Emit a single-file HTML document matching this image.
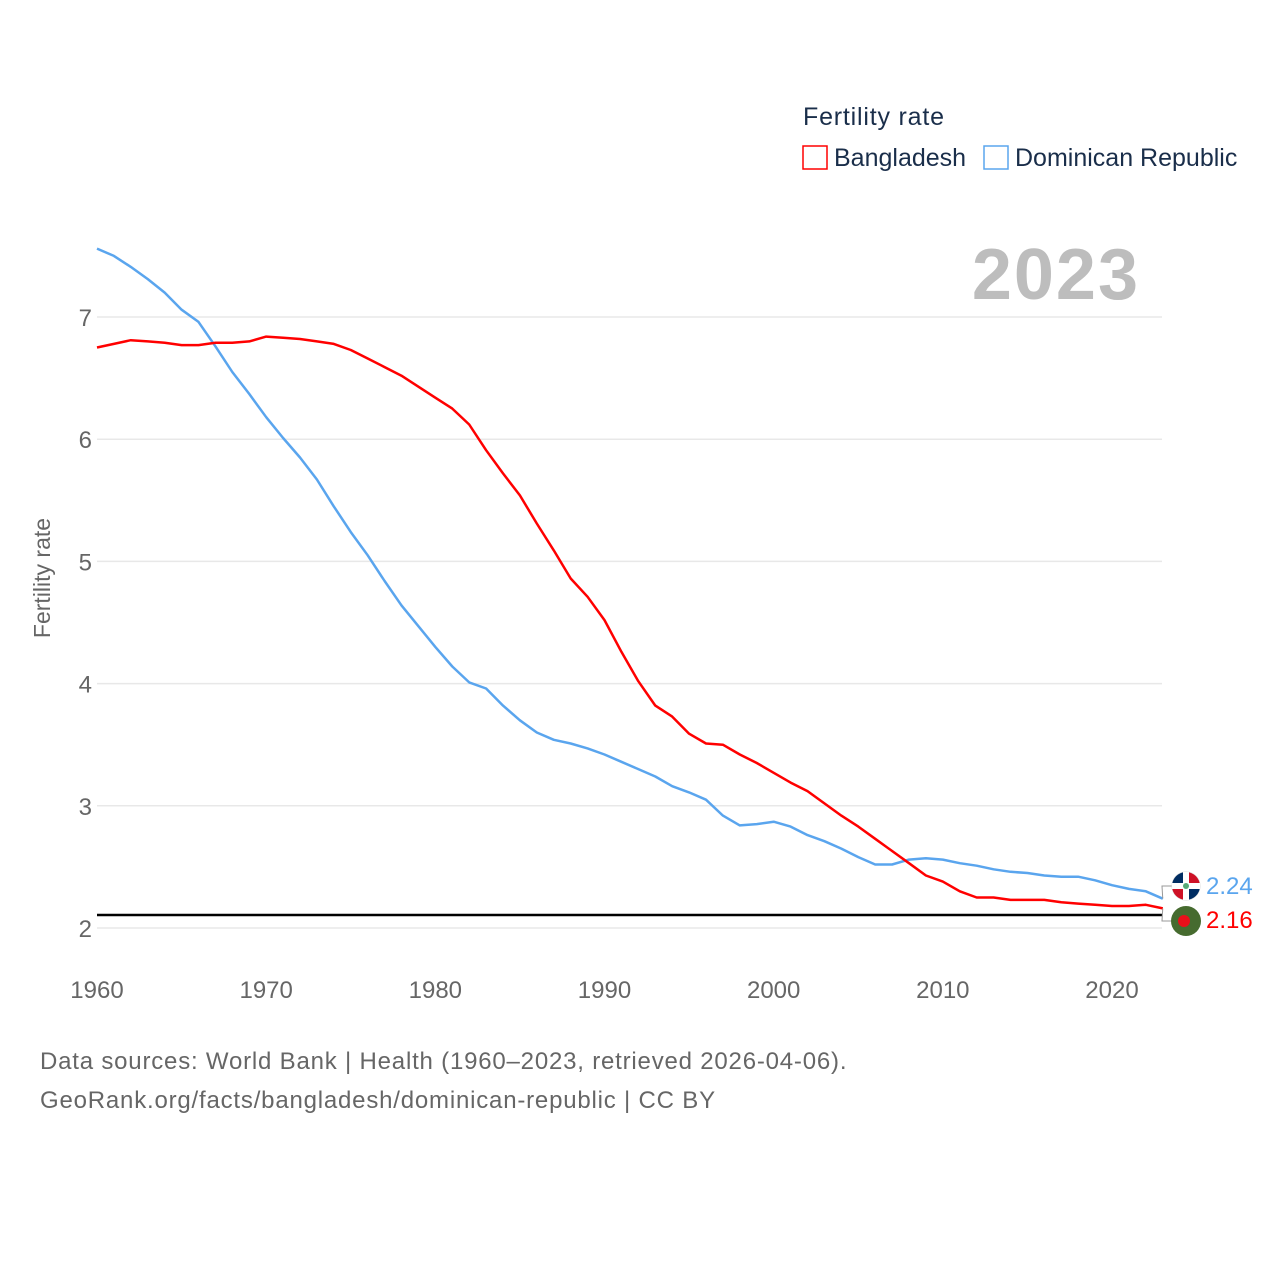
<!DOCTYPE html>
<html><head><meta charset="utf-8"><style>
body{margin:0;background:#fff;width:1280px;height:1280px;overflow:hidden;font-family:"Liberation Sans",sans-serif}
</style></head><body>
<svg width="1280" height="1280" style="font-family:'Liberation Sans',sans-serif">
<text x="803" y="125" font-size="25" fill="#1a2e4a" letter-spacing="0.8">Fertility rate</text>
<g><rect x="803" y="146" width="24" height="23" fill="none" stroke="#f00" stroke-width="1.5"/><text x="834" y="166" font-size="25" fill="#1a2e4a">Bangladesh</text></g>
<g><rect x="984" y="146" width="24" height="23" fill="none" stroke="#5aa5ee" stroke-width="1.5"/><text x="1015" y="166" font-size="25" fill="#1a2e4a">Dominican Republic</text></g>
<text x="1140" y="299" font-size="72" font-weight="bold" fill="#bdbdbd" text-anchor="end" letter-spacing="2">2023</text>
<text transform="translate(50,578) rotate(-90)" font-size="23" fill="#666" text-anchor="middle">Fertility rate</text>
<g id="grid"></g><g id="yt"></g><g id="xt"></g>
<line x1="97" x2="1162" y1="915" y2="915" stroke="#000" stroke-width="2.5"/>
<g id="lines"></g>
<g>
<circle cx="1186" cy="886" r="14" fill="#fff" stroke="#ddd"/>
<path d="M1172,886 A14,14 0 0 1 1186,872 L1186,886Z M1186,886 L1200,886 A14,14 0 0 1 1186,900Z" fill="#002d62"/>
<path d="M1186,872 A14,14 0 0 1 1200,886 L1186,886Z M1186,886 L1186,900 A14,14 0 0 1 1172,886Z" fill="#ce1126"/>
<rect x="1172" y="883" width="28" height="6" fill="#fff"/><rect x="1183" y="872" width="6" height="28" fill="#fff"/><circle cx="1186" cy="886" r="3" fill="#5a7"/>
<text x="1206" y="894" font-size="24" fill="#5aa5ee">2.24</text>
<circle cx="1186" cy="921" r="15" fill="#466b2f"/><circle cx="1184" cy="921" r="6" fill="#e8101a"/>
<text x="1206" y="928" font-size="24" fill="#f00">2.16</text>
</g>
<text x="40" y="1069" font-size="24" fill="#666" letter-spacing="0.8">Data sources: World Bank | Health (1960–2023, retrieved 2026-04-06).</text>
<text x="40" y="1108" font-size="24" fill="#666" letter-spacing="0.8">GeoRank.org/facts/bangladesh/dominican-republic | CC BY</text>
</svg>
<script>
const years=[];for(let y=1960;y<=2023;y++)years.push(y);
const bangladesh=[6.75,6.78,6.81,6.80,6.79,6.77,6.77,6.79,6.79,6.80,6.84,6.83,6.82,6.80,6.78,6.73,6.66,6.59,6.52,6.43,6.34,6.25,6.12,5.91,5.72,5.54,5.31,5.09,4.86,4.71,4.52,4.26,4.02,3.82,3.73,3.59,3.51,3.50,3.42,3.35,3.27,3.19,3.12,3.02,2.92,2.83,2.73,2.63,2.53,2.43,2.38,2.30,2.25,2.25,2.23,2.23,2.23,2.21,2.20,2.19,2.18,2.18,2.19,2.16];
const dominican=[7.56,7.50,7.41,7.31,7.20,7.06,6.96,6.76,6.55,6.37,6.18,6.01,5.85,5.67,5.45,5.24,5.05,4.84,4.64,4.47,4.30,4.14,4.01,3.96,3.82,3.70,3.60,3.54,3.51,3.47,3.42,3.36,3.30,3.24,3.16,3.11,3.05,2.92,2.84,2.85,2.87,2.83,2.76,2.71,2.65,2.58,2.52,2.52,2.56,2.57,2.56,2.53,2.51,2.48,2.46,2.45,2.43,2.42,2.42,2.39,2.35,2.32,2.30,2.24];
const yTicks=[2,3,4,5,6,7];
const xTicks=[1960,1970,1980,1990,2000,2010,2020];
const NS='http://www.w3.org/2000/svg';
const xS=y=>97+(y-1960)*(1015/60);
const yS=v=>928-(v-2)*122.2;
function mk(t,a,p){const e=document.createElementNS(NS,t);for(const k in a)e.setAttribute(k,a[k]);p.appendChild(e);return e;}
const grid=document.getElementById('grid'),yt=document.getElementById('yt'),xt=document.getElementById('xt'),lines=document.getElementById('lines');
yTicks.forEach(v=>{
const l=mk('line',{x1:97,x2:1162,y1:yS(v),y2:yS(v),stroke:'#e8e8e8','stroke-width':1.5},grid);


const t=mk('text',{x:92,y:yS(v)+9,'font-size':24,fill:'#666','text-anchor':'end'},yt);t.textContent=v;


});
xTicks.forEach(v=>{
const t=mk('text',{x:xS(v),y:998,'font-size':24,fill:'#666','text-anchor':'middle'},xt);t.textContent=v;


});
function line(data,color,name){
const d=data.map((v,i)=>(i?'L':'M')+xS(years[i]).toFixed(1)+','+yS(v).toFixed(1)).join(' ');
const p=mk('path',{d:d,fill:'none',stroke:color,'stroke-width':2.5,'stroke-linejoin':'round'},lines);


return p;}
line(dominican,'#5aa5ee','line-dominican-republic');
line(bangladesh,'#f00','line-bangladesh');
const ex=xS(2023);
const c1=mk('path',{d:`M${ex},${yS(dominican[63])} L1162,886 L1172,886`,fill:'none',stroke:'#999','stroke-width':1},lines);


const c2=mk('path',{d:`M${ex},${yS(bangladesh[63])} L1162,921 L1171,921`,fill:'none',stroke:'#999','stroke-width':1},lines);


</script>
</body></html>
